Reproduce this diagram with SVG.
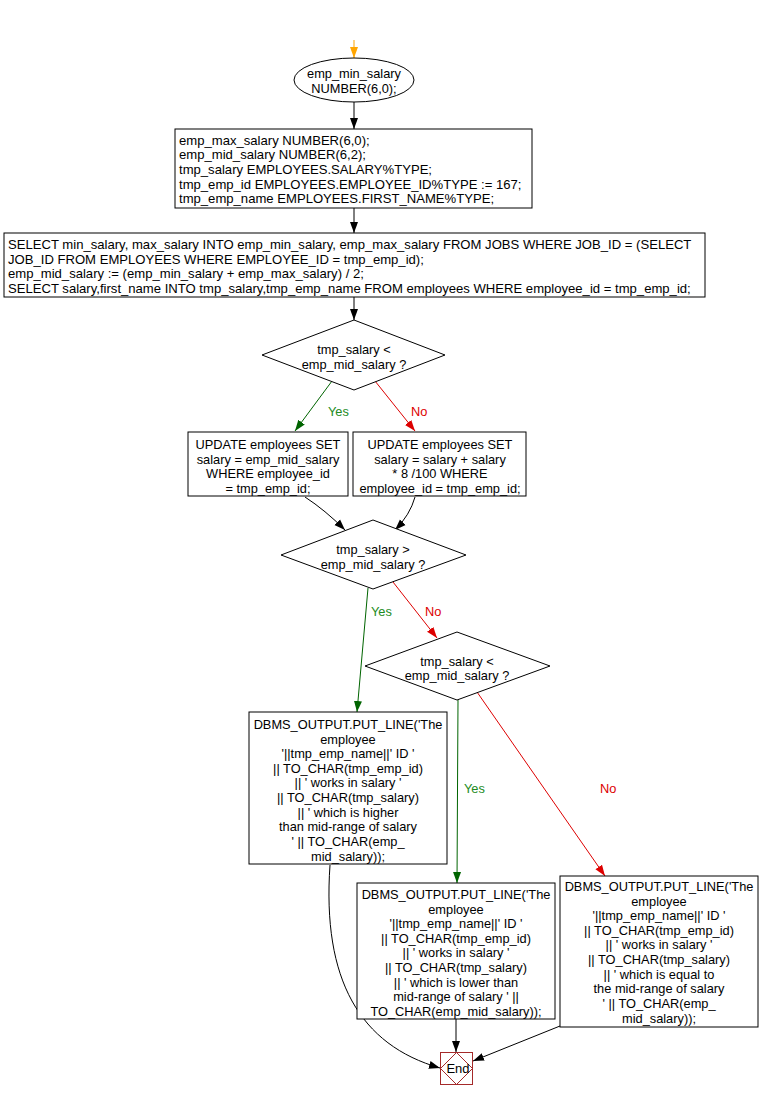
<svg xmlns="http://www.w3.org/2000/svg" width="760" height="1100" viewBox="0 0 760 1100">
<style>
text{font-family:"Liberation Sans",Arial,sans-serif;font-size:12.8px;fill:#000}
.w{font-size:13.1px}
.c{text-anchor:middle}
.shape{fill:#fff;stroke:#000;stroke-width:1}
.e{fill:none;stroke:#000;stroke-width:1}
.g{stroke:#006400}
.r{stroke:#dd0000}
.gt{fill:#228b22}
.rt{fill:#dd0000}
</style>
<defs>
<marker id="ab" markerUnits="userSpaceOnUse" markerWidth="12" markerHeight="10" refX="11" refY="5" orient="auto"><path d="M0,1 L11,5 L0,9 Z" fill="#000"/></marker>
<marker id="ag" markerUnits="userSpaceOnUse" markerWidth="12" markerHeight="10" refX="11" refY="5" orient="auto"><path d="M0,1 L11,5 L0,9 Z" fill="#006400"/></marker>
<marker id="ar" markerUnits="userSpaceOnUse" markerWidth="12" markerHeight="10" refX="11" refY="5" orient="auto"><path d="M0,1 L11,5 L0,9 Z" fill="#dd0000"/></marker>
<marker id="ao" markerUnits="userSpaceOnUse" markerWidth="12" markerHeight="10" refX="11" refY="5" orient="auto"><path d="M0,1 L11,5 L0,9 Z" fill="#ffa500"/></marker>
</defs>
<g id="connectors">
<path class="e" d="M354,40 L354,58" style="stroke:#ffa500" marker-end="url(#ao)"/>
<path class="e" d="M354,102 L354,129" marker-end="url(#ab)"/>
<path class="e" d="M354,208 L354,233" marker-end="url(#ab)"/>
<path class="e" d="M354,297 L354,320" marker-end="url(#ab)"/>
<path class="e g" d="M332,381 L295,431" marker-end="url(#ag)"/>
<path class="e r" d="M375,381 L415,431" marker-end="url(#ar)"/>
<path class="e" d="M305,497 Q325,510 345,530" marker-end="url(#ab)"/>
<path class="e" d="M415,497 Q410,515 395,530" marker-end="url(#ab)"/>
<path class="e g" d="M368,588 L357,712" marker-end="url(#ag)"/>
<path class="e r" d="M393,582 L437,638" marker-end="url(#ar)"/>
<path class="e g" d="M458,700 L457,883" marker-end="url(#ag)"/>
<path class="e r" d="M477,692 L605,876" marker-end="url(#ar)"/>
<path class="e" d="M330,865 C322,980 360,1045 440,1068" marker-end="url(#ab)"/>
<path class="e" d="M456,1019 L456,1052" marker-end="url(#ab)"/>
<path class="e" d="M560,1026 L473,1061" marker-end="url(#ab)"/>
<text class="gt" x="328" y="416">Yes</text>
<text class="rt" x="411" y="416">No</text>
<text class="gt" x="371" y="616">Yes</text>
<text class="rt" x="425" y="616">No</text>
<text class="gt" x="464" y="793">Yes</text>
<text class="rt" x="600" y="793">No</text>
</g>
<g id="start">
<ellipse class="shape" cx="354" cy="80" rx="60" ry="22"/>
<text class="c" x="354" y="78">emp_min_salary</text>
<text class="c" x="354" y="93">NUMBER(6,0);</text>
</g>
<g id="decl">
<rect class="shape" x="175" y="129" width="357" height="79"/>
<text class="w" x="179" y="145">emp_max_salary NUMBER(6,0);</text>
<text class="w" x="179" y="159">emp_mid_salary NUMBER(6,2);</text>
<text class="w" x="179" y="174">tmp_salary EMPLOYEES.SALARY%TYPE;</text>
<text class="w" x="179" y="189">tmp_emp_id EMPLOYEES.EMPLOYEE_ID%TYPE := 167;</text>
<text class="w" x="179" y="203">tmp_emp_name EMPLOYEES.FIRST_NAME%TYPE;</text>
</g>
<g id="select">
<rect class="shape" x="4" y="233" width="701" height="64"/>
<text class="w" x="8" y="249">SELECT min_salary, max_salary INTO emp_min_salary, emp_max_salary FROM JOBS WHERE JOB_ID = (SELECT</text>
<text class="w" x="8" y="264">JOB_ID FROM EMPLOYEES WHERE EMPLOYEE_ID = tmp_emp_id);</text>
<text class="w" x="8" y="278">emp_mid_salary := (emp_min_salary + emp_max_salary) / 2;</text>
<text class="w" x="8" y="293">SELECT salary,first_name INTO tmp_salary,tmp_emp_name FROM employees WHERE employee_id = tmp_emp_id;</text>
</g>
<g id="dec1">
<polygon class="shape" points="354,320 445,355 354,390 262,355"/>
<text class="c" x="354" y="354">tmp_salary &lt;</text>
<text class="c" x="354" y="369">emp_mid_salary ?</text>
</g>
<g id="upd1">
<rect class="shape" x="188" y="432" width="160" height="64"/>
<text class="c" x="268" y="449">UPDATE employees SET</text>
<text class="c" x="268" y="464">salary = emp_mid_salary</text>
<text class="c" x="268" y="478">WHERE employee_id</text>
<text class="c" x="268" y="493">= tmp_emp_id;</text>
</g>
<g id="upd2">
<rect class="shape" x="353" y="432" width="173" height="64"/>
<text class="c" x="440" y="449">UPDATE employees SET</text>
<text class="c" x="440" y="464">salary = salary + salary</text>
<text class="c" x="440" y="478">* 8 /100 WHERE</text>
<text class="c" x="440" y="493">employee_id = tmp_emp_id;</text>
</g>
<g id="dec2">
<polygon class="shape" points="373,520 466,555 373,589 281,555"/>
<text class="c" x="373" y="554">tmp_salary &gt;</text>
<text class="c" x="373" y="569">emp_mid_salary ?</text>
</g>
<g id="dec3">
<polygon class="shape" points="457,632 550,666 457,700 365,666"/>
<text class="c" x="457" y="666">tmp_salary &lt;</text>
<text class="c" x="457" y="680">emp_mid_salary ?</text>
</g>
<g id="out1">
<rect class="shape" x="249" y="712" width="198" height="152"/>
<text class="c" x="348" y="729">DBMS_OUTPUT.PUT_LINE('The</text>
<text class="c" x="348" y="744">employee</text>
<text class="c" x="348" y="758">'||tmp_emp_name||' ID '</text>
<text class="c" x="348" y="773">|| TO_CHAR(tmp_emp_id)</text>
<text class="c" x="348" y="787">|| ' works in salary '</text>
<text class="c" x="348" y="802">|| TO_CHAR(tmp_salary)</text>
<text class="c" x="348" y="817">|| ' which is higher</text>
<text class="c" x="348" y="831">than mid-range of salary</text>
<text class="c" x="348" y="846">' || TO_CHAR(emp_</text>
<text class="c" x="348" y="861">mid_salary));</text>
</g>
<g id="out2">
<rect class="shape" x="357" y="883" width="198" height="136"/>
<text class="c" x="456" y="899">DBMS_OUTPUT.PUT_LINE('The</text>
<text class="c" x="456" y="914">employee</text>
<text class="c" x="456" y="928">'||tmp_emp_name||' ID '</text>
<text class="c" x="456" y="943">|| TO_CHAR(tmp_emp_id)</text>
<text class="c" x="456" y="957">|| ' works in salary '</text>
<text class="c" x="456" y="972">|| TO_CHAR(tmp_salary)</text>
<text class="c" x="456" y="987">|| ' which is lower than</text>
<text class="c" x="456" y="1001">mid-range of salary ' ||</text>
<text class="c" x="456" y="1016">TO_CHAR(emp_mid_salary));</text>
</g>
<g id="out3">
<rect class="shape" x="560" y="876" width="198" height="151"/>
<text class="c" x="659" y="891">DBMS_OUTPUT.PUT_LINE('The</text>
<text class="c" x="659" y="906">employee</text>
<text class="c" x="659" y="920">'||tmp_emp_name||' ID '</text>
<text class="c" x="659" y="935">|| TO_CHAR(tmp_emp_id)</text>
<text class="c" x="659" y="949">|| ' works in salary '</text>
<text class="c" x="659" y="964">|| TO_CHAR(tmp_salary)</text>
<text class="c" x="659" y="979">|| ' which is equal to</text>
<text class="c" x="659" y="993">the mid-range of salary</text>
<text class="c" x="659" y="1008">' || TO_CHAR(emp_</text>
<text class="c" x="659" y="1023">mid_salary));</text>
</g>
<g id="end">
<rect x="440.5" y="1052.5" width="32" height="32" fill="#fff" stroke="#a52a2a" stroke-width="1"/>
<polygon points="456.5,1052.5 472.5,1068.5 456.5,1084.5 440.5,1068.5" fill="none" stroke="#a52a2a" stroke-width="1"/>
<text class="c" x="458" y="1073" style="font-size:13px">End</text>
</g>
</svg>
